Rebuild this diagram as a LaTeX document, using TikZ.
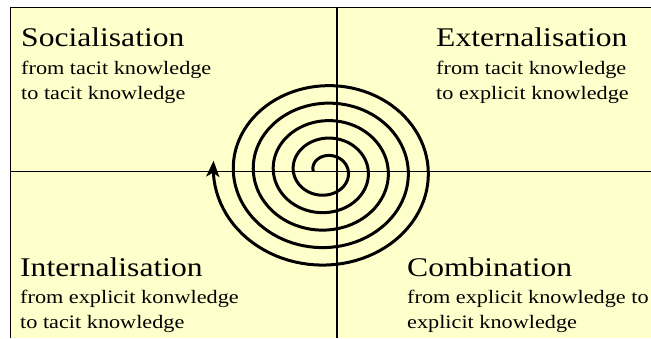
\documentclass[tikz,border=0pt]{standalone}
\usepackage{fontspec}
\setmainfont[FakeStretch=1.17]{Liberation Serif}
\usetikzlibrary{positioning, arrows.meta}
\definecolor{paper}{RGB}{255,255,204}

\begin{document}
\begin{tikzpicture}[
  x=1pt, y=1pt,
  head/.style={anchor=base west, inner sep=0pt, font=\fontsize{27}{32}\selectfont},
  body/.style={anchor=base west, inner sep=0pt, font=\fontsize{19}{23}\selectfont},
  rule/.style={line width=0.8pt},
  a/.style={line width=3pt, -{Stealth[length=16pt, width=13pt, inset=4pt]}}
]
\useasboundingbox (0,0) rectangle (651,338);
\coordinate (bl) at (10,0);
\coordinate (tl) at (10,331);
\coordinate (tr) at (651,331);
\coordinate (top) at (337,331);
\coordinate (bot) at (337,0);
\coordinate (lft) at (10,167);
\coordinate (rgt) at (651,167);
\fill[paper] (bl) rectangle (tr);
\draw[rule] (bl) -- (tl) -- (tr);
\draw[rule] (lft) -- (rgt);
\draw[line width=1.6pt] (bot) -- (top);

% quadrant texts
\node[head] (soc) at (21,291.3) {Socialisation};
\node[body] (soc1) at ([yshift=-28.3pt]soc.base west) {from tacit knowledge};
\node[body] (soc2) at ([yshift=-24.5pt]soc1.base west) {to tacit knowledge};

\node[head] (ext) at (436,291.3) {Externalisation};
\node[body] (ext1) at ([yshift=-28.3pt]ext.base west) {from tacit knowledge};
\node[body] (ext2) at ([yshift=-24.5pt]ext1.base west) {to explicit knowledge};

\node[head] (int) at (20,62) {Internalisation};
\node[body] (int1) at ([yshift=-27.3pt]int.base west) {from explicit konwledge};
\node[body] (int2) at ([yshift=-25pt]int1.base west) {to tacit knowledge};

\node[head] (com) at (407,62) {Combination};
\node[body] (com1) at ([yshift=-27.3pt]com.base west) {from explicit knowledge to};
\node[body] (com2) at ([yshift=-25pt]com1.base west) {explicit knowledge};

% spiral
\draw[a, domain=-180:1626, samples=500, variable=\t]
  plot ({325.8+(22.5+\t/18)*cos(\t)}, {167-0.875*(22.5+\t/18)*sin(\t)});
\end{tikzpicture}
\end{document}
